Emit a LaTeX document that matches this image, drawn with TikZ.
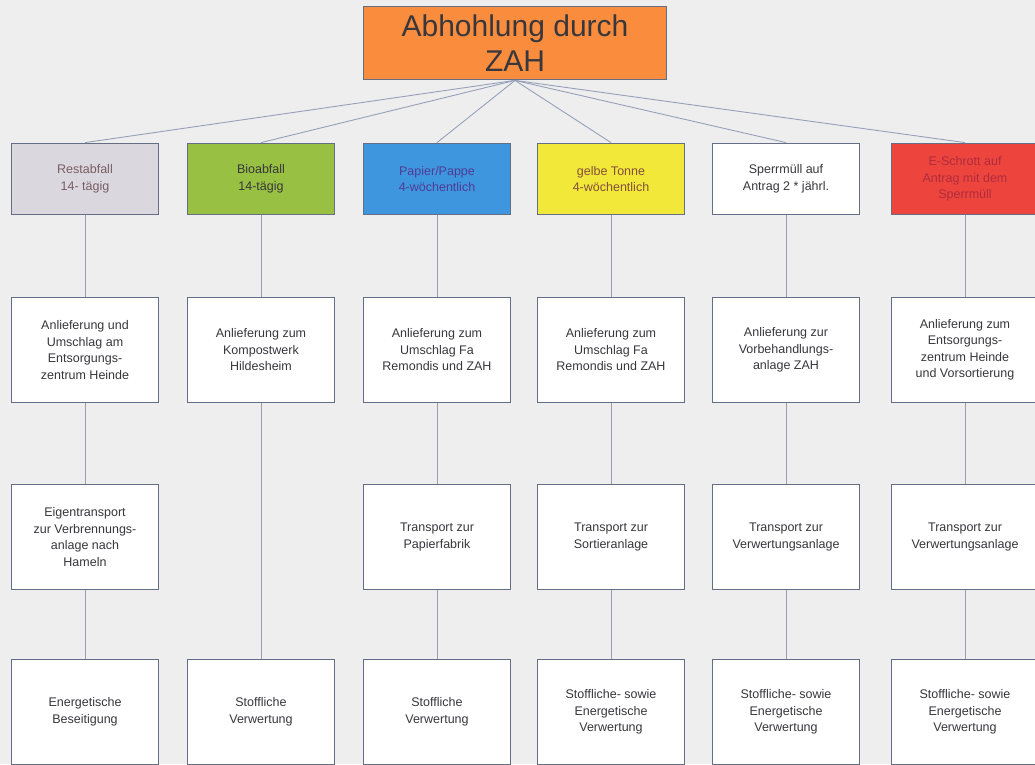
\documentclass[tikz,border=0pt]{standalone}
\usepackage{fontspec}
\setmainfont{Liberation Sans}
\definecolor{paper}{RGB}{238,238,238}
\definecolor{boxline}{RGB}{100,110,132}
\definecolor{linkcol}{RGB}{150,160,185}
\definecolor{textgray}{RGB}{55,55,60}
\definecolor{orangebox}{RGB}{250,140,62}
\definecolor{graybox}{RGB}{218,215,222}
\definecolor{greenbox}{RGB}{152,192,66}
\definecolor{bluebox}{RGB}{62,150,222}
\definecolor{yellowbox}{RGB}{242,232,58}
\definecolor{redbox}{RGB}{238,68,62}
\begin{document}
\begin{tikzpicture}[x=1pt,y=-1pt,
	box/.style={draw=boxline,line width=1.8pt,fill=white,minimum width=147pt,minimum height=105pt,
		inner sep=0pt,align=center,text=textgray,font=\fontsize{12.5}{16.5}\selectfont},
	kind/.style={box,minimum height=71pt},
	link/.style={draw=linkcol,line width=0.9pt}]
	\clip (0,0) rectangle (1035,764);
	\fill[paper] (0,0) rectangle (1035,764);
	% Abholung
	\node[draw=boxline,line width=1.8pt,fill=orangebox,minimum width=303pt,minimum height=73pt,inner sep=0pt,
		align=center,text=textgray,font=\fontsize{30}{35}\selectfont] (zah) at (515,43) {Abhohlung durch\\ZAH};
	% Abfallarten
	\node[kind,fill=graybox,text={rgb,255:red,120;green,95;blue,100}] (rest) at (85,179) {Restabfall\\14- tägig};
	\node[kind,fill=greenbox] (bio) at (261,179) {Bioabfall\\14-tägig};
	\node[kind,fill=bluebox,text={rgb,255:red,80;green,60;blue,150}] (papier) at (437,179) {Papier/Pappe\\4-wöchentlich};
	\node[kind,fill=yellowbox,text={rgb,255:red,130;green,80;blue,60}] (gelb) at (611,179) {gelbe Tonne\\4-wöchentlich};
	\node[kind] (sperr) at (786,179) {Sperrmüll auf\\Antrag 2 * jährl.};
	\node[kind,fill=redbox,text={rgb,255:red,175;green,45;blue,60}] (schrott) at (965,179) {E-Schrott auf\\Antrag mit dem\\Sperrmüll};
	% Anlieferung
	\node[box] (restA) at (85,350) {Anlieferung und\\Umschlag am\\Entsorgungs-\\zentrum Heinde};
	\node[box] (bioA) at (261,350) {Anlieferung zum\\Kompostwerk\\Hildesheim};
	\node[box] (papierA) at (437,350) {Anlieferung zum\\Umschlag Fa\\Remondis und ZAH};
	\node[box] (gelbA) at (611,350) {Anlieferung zum\\Umschlag Fa\\Remondis und ZAH};
	\node[box] (sperrA) at (786,350) {Anlieferung zur\\Vorbehandlungs-\\anlage ZAH};
	\node[box] (schrottA) at (965,350) {Anlieferung zum\\Entsorgungs-\\zentrum Heinde\\und Vorsortierung};
	% Transport
	\node[box] (restT) at (85,537) {Eigentransport\\zur Verbrennungs-\\anlage nach\\Hameln};
	\node[box] (papierT) at (437,537) {Transport zur\\Papierfabrik};
	\node[box] (gelbT) at (611,537) {Transport zur\\Sortieranlage};
	\node[box] (sperrT) at (786,537) {Transport zur\\Verwertungsanlage};
	\node[box] (schrottT) at (965,537) {Transport zur\\Verwertungsanlage};
	% Verwertung
	\node[box] (restV) at (85,712) {Energetische\\Beseitigung};
	\node[box] (bioV) at (261,712) {Stoffliche\\Verwertung};
	\node[box] (papierV) at (437,712) {Stoffliche\\Verwertung};
	\node[box] (gelbV) at (611,712) {Stoffliche- sowie\\Energetische\\Verwertung};
	\node[box] (sperrV) at (786,712) {Stoffliche- sowie\\Energetische\\Verwertung};
	\node[box] (schrottV) at (965,712) {Stoffliche- sowie\\Energetische\\Verwertung};
	% Verbindungen
	\foreach \k in {rest,bio,papier,gelb,sperr,schrott}
		\draw[link] (zah.south) -- (\k.north);
	\foreach \k in {rest,papier,gelb,sperr,schrott}
		\draw[link] (\k.south) -- (\k A.north) (\k A.south) -- (\k T.north) (\k T.south) -- (\k V.north);
	\draw[link] (bio.south) -- (bioA.north) (bioA.south) -- (bioV.north);
\end{tikzpicture}
\end{document}
